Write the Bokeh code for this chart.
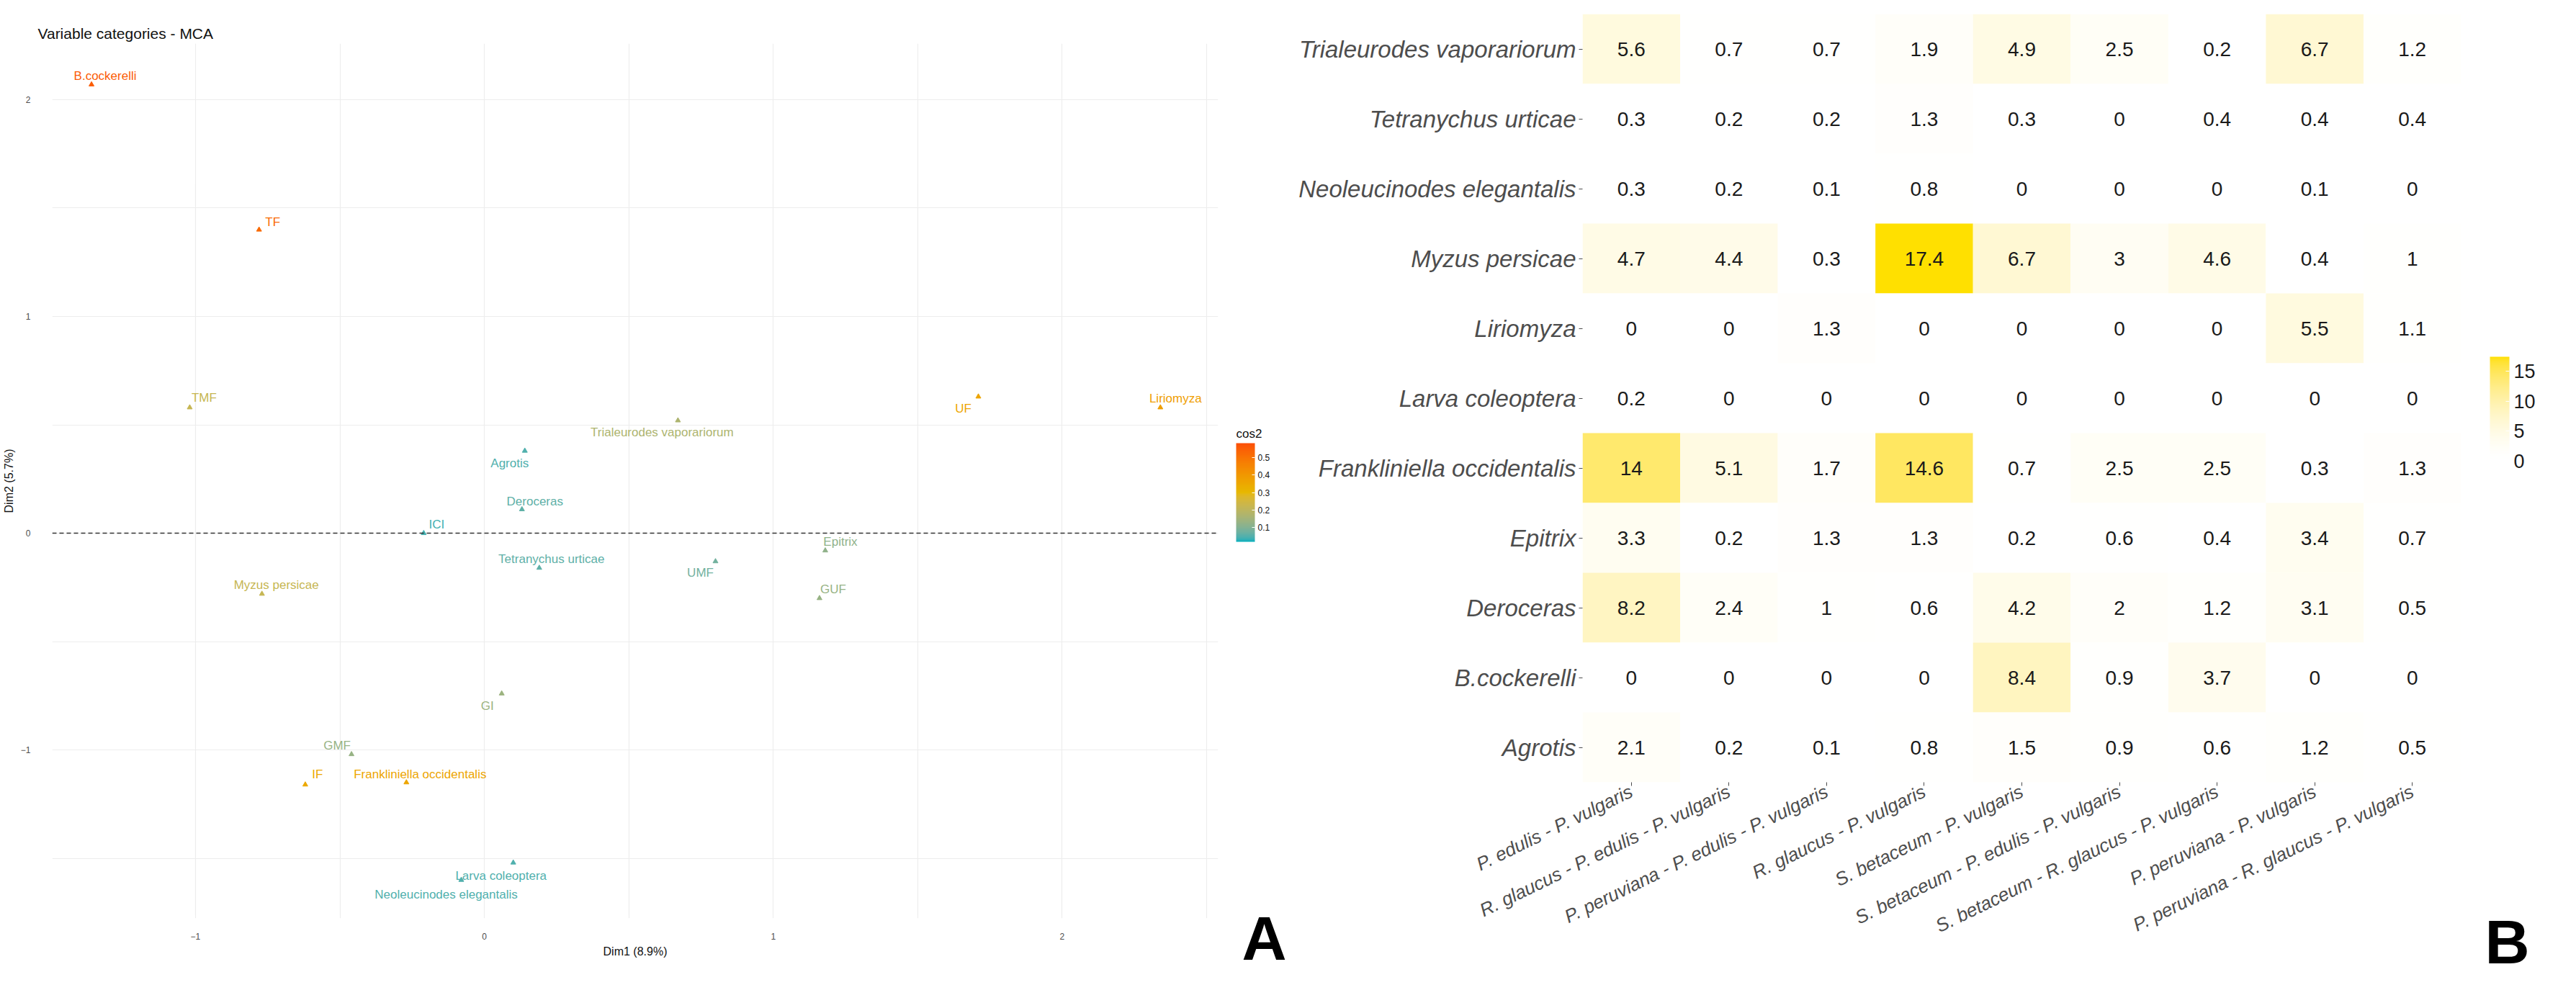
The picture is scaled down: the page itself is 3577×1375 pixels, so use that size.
import numpy as np
from bokeh.plotting import figure
from bokeh.models import (ColumnDataSource, LinearColorMapper, ColorBar, Span, Range1d,
                          FactorRange, FixedTicker)
from bokeh.layouts import row
from bokeh.embed import file_html
from bokeh.resources import INLINE
from bokeh.core.properties import value
from bokeh.transform import transform

# ---------------- Panel A data (MCA variable categories) ----------------
mca_names = ["B.cockerelli", "TF", "TMF", "Agrotis", "Deroceras", "ICI",
             "Tetranychus urticae", "Myzus persicae", "Trialeurodes vaporariorum",
             "UF", "Liriomyza", "Epitrix", "UMF", "GUF", "GI", "GMF", "IF",
             "Frankliniella occidentalis", "Larva coleoptera", "Neoleucinodes elegantalis"]
dim1 = [-1.36, -0.78, -1.02, 0.14, 0.13, -0.21, 0.19, -0.77, 0.67, 1.71, 2.34,
        1.18, 0.80, 1.16, 0.06, -0.46, -0.62, -0.27, 0.10, -0.08]
dim2 = [2.07, 1.40, 0.58, 0.38, 0.11, 0.00, -0.16, -0.28, 0.52, 0.63, 0.58,
        -0.08, -0.13, -0.30, -0.74, -1.02, -1.16, -1.15, -1.52, -1.60]
cos2 = [0.55, 0.52, 0.22, 0.05, 0.06, 0.04, 0.06, 0.22, 0.17, 0.36, 0.38,
        0.12, 0.08, 0.13, 0.14, 0.13, 0.35, 0.36, 0.05, 0.05]
cos2_ticks = [0.1, 0.2, 0.3, 0.4, 0.5]

# ---------------- Panel B data (heatmap) ----------------
pests = ["Trialeurodes vaporariorum", "Tetranychus urticae", "Neoleucinodes elegantalis",
         "Myzus persicae", "Liriomyza", "Larva coleoptera", "Frankliniella occidentalis",
         "Epitrix", "Deroceras", "B.cockerelli", "Agrotis"]
systems = ["P. edulis - P. vulgaris", "R. glaucus - P. edulis - P. vulgaris",
           "P. peruviana - P. edulis - P. vulgaris", "R. glaucus - P. vulgaris",
           "S. betaceum - P. vulgaris", "S. betaceum - P. edulis - P. vulgaris",
           "S. betaceum - R. glaucus - P. vulgaris", "P. peruviana - P. vulgaris",
           "P. peruviana - R. glaucus - P. vulgaris"]
trialeurodes = [5.6, 0.7, 0.7, 1.9, 4.9, 2.5, 0.2, 6.7, 1.2]
tetranychus = [0.3, 0.2, 0.2, 1.3, 0.3, 0, 0.4, 0.4, 0.4]
neoleucinodes = [0.3, 0.2, 0.1, 0.8, 0, 0, 0, 0.1, 0]
myzus = [4.7, 4.4, 0.3, 17.4, 6.7, 3, 4.6, 0.4, 1]
liriomyza = [0, 0, 1.3, 0, 0, 0, 0, 5.5, 1.1]
larva = [0.2, 0, 0, 0, 0, 0, 0, 0, 0]
frankliniella = [14, 5.1, 1.7, 14.6, 0.7, 2.5, 2.5, 0.3, 1.3]
epitrix = [3.3, 0.2, 1.3, 1.3, 0.2, 0.6, 0.4, 3.4, 0.7]
deroceras = [8.2, 2.4, 1, 0.6, 4.2, 2, 1.2, 3.1, 0.5]
bcockerelli = [0, 0, 0, 0, 8.4, 0.9, 3.7, 0, 0]
agrotis = [2.1, 0.2, 0.1, 0.8, 1.5, 0.9, 0.6, 1.2, 0.5]
heat_ticks = [0, 5, 10, 15]

heat_rows = [trialeurodes, tetranychus, neoleucinodes, myzus, liriomyza, larva,
             frankliniella, epitrix, deroceras, bcockerelli, agrotis]

# ---------------- styling helpers ----------------
FONT = "'Liberation Sans', Arial, sans-serif"


def _hex2rgb(h):
    return [int(h[i:i + 2], 16) / 255 for i in (1, 3, 5)]


def _rgb2lab(c):
    lin = [((v + 0.055) / 1.055) ** 2.4 if v > 0.04045 else v / 12.92 for v in c]
    x = (0.4124 * lin[0] + 0.3576 * lin[1] + 0.1805 * lin[2]) / 0.95047
    y = (0.2126 * lin[0] + 0.7152 * lin[1] + 0.0722 * lin[2])
    z = (0.0193 * lin[0] + 0.1192 * lin[1] + 0.9505 * lin[2]) / 1.08883
    f = lambda t: t ** (1 / 3) if t > 0.008856 else 7.787 * t + 16 / 116
    fx, fy, fz = f(x), f(y), f(z)
    return [116 * fy - 16, 500 * (fx - fy), 200 * (fy - fz)]


def _lab2hex(lab):
    L, a, b = lab
    fy = (L + 16) / 116
    fx = fy + a / 500
    fz = fy - b / 200
    inv = lambda t: t ** 3 if t ** 3 > 0.008856 else (t - 16 / 116) / 7.787
    x, y, z = inv(fx) * 0.95047, inv(fy), inv(fz) * 1.08883
    r = 3.2406 * x - 1.5372 * y - 0.4986 * z
    g = -0.9689 * x + 1.8758 * y + 0.0415 * z
    bb = 0.0557 * x - 0.2040 * y + 1.0570 * z
    out = []
    for v in (r, g, bb):
        v = 1.055 * v ** (1 / 2.4) - 0.055 if v > 0.0031308 else 12.92 * v
        out.append(int(round(min(max(v, 0), 1) * 255)))
    return "#%02x%02x%02x" % tuple(out)


def lab_palette(anchors, n=256, gamma=1.0):
    labs = [_rgb2lab(_hex2rgb(a)) for a in anchors]
    segs = len(labs) - 1
    pal = []
    for k in range(n):
        t = (k / (n - 1)) ** gamma * segs
        s = min(int(t), segs - 1)
        f = t - s
        pal.append(_lab2hex([labs[s][j] + (labs[s + 1][j] - labs[s][j]) * f for j in range(3)]))
    return pal


H = 1359

# ================= Panel A (main) =================
pA = figure(width=1700, height=H, x_range=(-1.496, 2.54), y_range=(-1.777, 2.259),
            output_backend="svg", toolbar_location=None, frame_align=False,
            min_border_left=72, min_border_right=9, min_border_top=60, min_border_bottom=84)
pA.outline_line_color = None
pA.title.text = "Variable categories - MCA"
pA.title.align = "left"
pA.title.offset = -20
pA.title.standoff = 6
pA.title.text_font = FONT
pA.title.text_font_size = "21px"
pA.title.text_font_style = "normal"
pA.title.text_color = "#111111"

cmapA = LinearColorMapper(palette=lab_palette(["#00AFBB", "#E7B800", "#FC4E07"]),
                          low=0.02, high=0.58)

pA.xgrid.ticker = FixedTicker(ticks=list(np.arange(-1.5, 2.51, 0.5)))
pA.ygrid.ticker = FixedTicker(ticks=list(np.arange(-1.5, 2.01, 0.5)))
for g in (pA.xgrid, pA.ygrid):
    g.grid_line_color = "#EDEDED"
    g.grid_line_width = 1.2

for ax in (pA.xaxis, pA.yaxis):
    ax.axis_line_color = None
    ax.major_tick_line_color = None
    ax.minor_tick_line_color = None
    ax.major_label_text_font = FONT
    ax.major_label_text_font_size = "12px"
    ax.major_label_text_color = "#4D4D4D"
    ax.axis_label_text_font = FONT
    ax.axis_label_text_font_style = "normal"
    ax.axis_label_text_font_size = "16px"
    ax.axis_label_text_color = "#111111"
pA.xaxis.ticker = FixedTicker(ticks=[-1, 0, 1, 2])
pA.yaxis.ticker = FixedTicker(ticks=[-1, 0, 1, 2])
pA.xaxis.axis_label = "Dim1 (8.9%)"
pA.yaxis.axis_label = "Dim2 (5.7%)"
pA.xaxis.major_label_standoff = 14
pA.yaxis.major_label_standoff = 24

pA.add_layout(Span(location=0, dimension="width", line_color="#333333",
                   line_dash="6 4", line_width=1.6))

lab_dx = [19, 19, 20, -21, 18, 18, 17, 20, -22, -21, 21, 21, -21, 19, -20, -20, 17, 19, -17, -21]
lab_dy = [-12, -11, -13, 17, -11, -12, -12, -12, 16, 17, -12, -12, 16, -12, 17, -12, -14, -11, 18, 20]

srcA = ColumnDataSource(dict(x=dim1, y=dim2, c=cos2, name=mca_names, dx=lab_dx, dy=lab_dy))
pA.scatter(x="x", y="y", source=srcA, marker="triangle", size=7,
           color=transform("c", cmapA))
pA.text(x="x", y="y", text="name", source=srcA, x_offset="dx", y_offset="dy",
        text_align="center", text_baseline="middle", text_font=value(FONT),
        text_font_size="17px", text_color=transform("c", cmapA))

# ================= Panel A (side: legend + letter) =================
WSA = 90
sA = figure(width=WSA, height=H, x_range=Range1d(0, WSA), y_range=Range1d(H, 0),
            output_backend="svg", toolbar_location=None, frame_align=False,
            x_axis_location=None, y_axis_location=None, min_border=0)
sA.outline_line_color = None
sA.grid.visible = False
cbA = ColorBar(color_mapper=cmapA, ticker=FixedTicker(ticks=cos2_ticks), width=26, height=137,
               major_label_text_font=FONT, major_label_text_font_size="12px",
               major_label_text_color="#111111", major_tick_line_color="white",
               major_tick_in=4, major_tick_out=0, bar_line_color=None,
               location=(12, 603), padding=4, margin=0, label_standoff=4,
               background_fill_alpha=0)
sA.add_layout(cbA, "center")
sA.text(x=[16], y=[602], text=["cos2"], text_font=value(FONT), text_font_size="17px",
        text_color="#111111", text_baseline="middle")
sA.text(x=[24], y=[1302], text=["A"], text_font=value(FONT), text_font_size="86px",
        text_font_style="bold", text_color="black", text_baseline="alphabetic")

# ================= Panel B (heatmap) =================
pB = figure(width=1642, height=H, x_range=FactorRange(*systems),
            y_range=FactorRange(*pests[::-1]), output_backend="svg",
            toolbar_location=None, frame_align=False, min_border_left=407,
            min_border_right=15, min_border_top=19, min_border_bottom=273)
pB.outline_line_color = None
pB.grid.grid_line_color = None

xs, ys, vs, ts = [], [], [], []
for pest, vals in zip(pests, heat_rows):
    for sysname, v in zip(systems, vals):
        xs.append(sysname)
        ys.append(pest)
        vs.append(v)
        ts.append(f"{v:g}")
srcB = ColumnDataSource(dict(x=xs, y=ys, v=vs, t=ts))
cmapB = LinearColorMapper(palette=lab_palette(["#FFFFFF", "#FFE000"], gamma=1.6),
                          low=0, high=17.4)
pB.rect(x="x", y="y", width=1, height=1, source=srcB, fill_color=transform("v", cmapB),
        line_color=None)
pB.text(x="x", y="y", text="t", source=srcB, text_align="center", text_baseline="middle",
        text_font=value(FONT), text_font_size="28px", text_color="#1A1A1A")

for ax in (pB.xaxis, pB.yaxis):
    ax.axis_line_color = None
    ax.major_tick_line_color = "#4D4D4D"
    ax.major_tick_in = 0
    ax.major_tick_out = 5
    ax.major_label_text_font = FONT
    ax.major_label_text_font_style = "italic"
    ax.major_label_text_color = "#4D4D4D"
pB.yaxis.major_label_text_font_size = "33px"
pB.xaxis.major_label_text_font_size = "26px"
pB.xaxis.major_label_orientation = 0.454
pB.yaxis.major_label_standoff = 4
pB.xaxis.major_label_standoff = 6

# ================= Panel B (side: legend + letter) =================
WSB = 129
sB = figure(width=WSB, height=H, x_range=Range1d(0, WSB), y_range=Range1d(H, 0),
            output_backend="svg", toolbar_location=None, frame_align=False,
            x_axis_location=None, y_axis_location=None, min_border=0)
sB.outline_line_color = None
sB.grid.visible = False
cbB = ColorBar(color_mapper=cmapB, ticker=FixedTicker(ticks=heat_ticks), width=27, height=145,
               major_label_text_font=FONT, major_label_text_font_size="27px",
               major_label_text_color="#1A1A1A", major_tick_line_color="white",
               major_tick_in=5, major_tick_out=0, bar_line_color=None,
               location=(21, 715), padding=4, margin=0, label_standoff=6,
               background_fill_alpha=0)
sB.add_layout(cbB, "center")
sB.text(x=[18], y=[1307], text=["B"], text_font=value(FONT), text_font_size="86px",
        text_font_style="bold", text_color="black", text_baseline="alphabetic")

layout = row(pA, sA, pB, sB)
open("out.html", "w").write(file_html(layout, INLINE))
